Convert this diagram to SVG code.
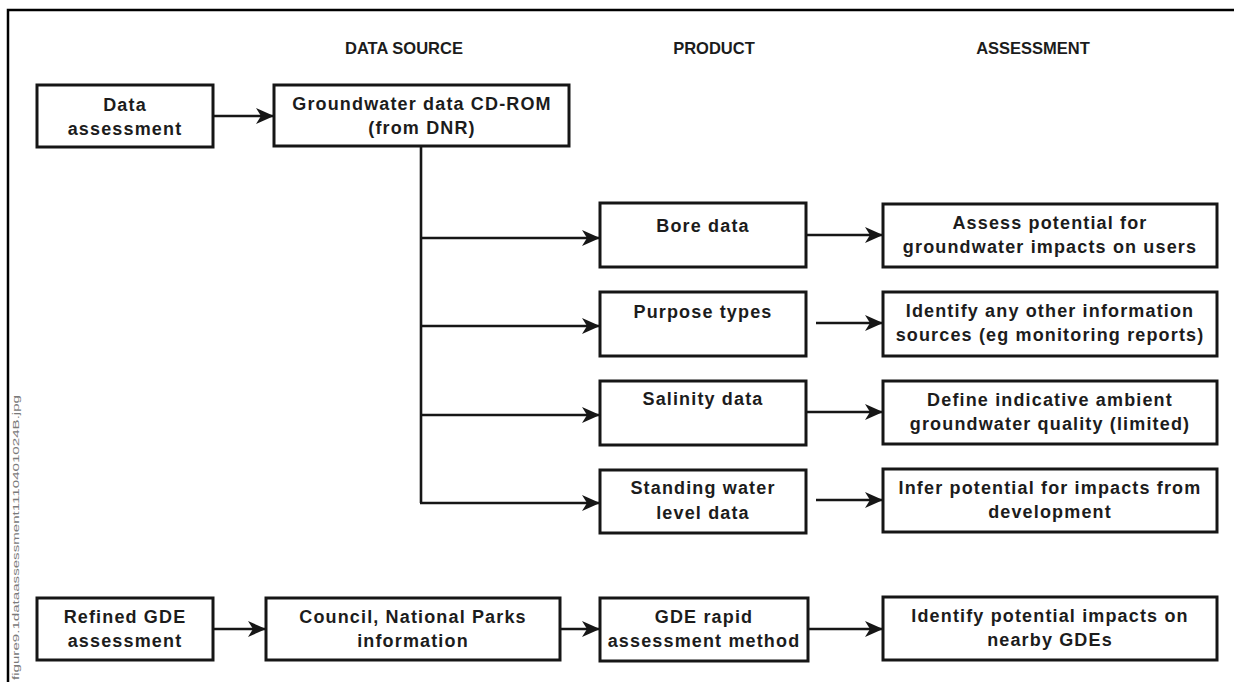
<svg xmlns="http://www.w3.org/2000/svg" width="1234" height="682" viewBox="0 0 1234 682">
  <style>
    .box { fill: #ffffff; stroke: #161616; stroke-width: 3; }
    .lbl { font-family: "Liberation Sans", Arial, sans-serif; font-weight: bold; font-size: 18px; letter-spacing: 1.15px; fill: #1c1c1c; text-anchor: middle; }
    .hdr { font-family: "Liberation Sans", Arial, sans-serif; font-weight: bold; font-size: 16.5px; fill: #1c1c1c; text-anchor: middle; }
    .wire { fill: none; stroke: #161616; stroke-width: 2.6; }
    .arr { marker-end: url(#head); }
    .frame { fill: none; stroke: #000000; stroke-width: 2.5; }
    .file { font-family: "Liberation Sans", Arial, sans-serif; font-size: 9px; fill: #7a7a7a; }
  </style>
  <defs>
    <marker id="head" viewBox="0 0 18 16" refX="17" refY="8" markerWidth="18" markerHeight="16" markerUnits="userSpaceOnUse" orient="auto">
      <path d="M0,0 L18,8 L0,16 L5,8 Z" fill="#161616"/>
    </marker>
  </defs>

  <rect width="1234" height="682" fill="#ffffff"/>

  <!-- page frame -->
  <path class="frame" d="M8,682 V10 H1234"/>

  <!-- file name printed along the left margin -->
  <text class="file" transform="translate(19,680) rotate(-90)" textLength="285" lengthAdjust="spacingAndGlyphs">figure9.1dataassessment1110401024B.jpg</text>

  <!-- column headings -->
  <g id="headings">
    <text class="hdr" x="404" y="54">DATA SOURCE</text>
    <text class="hdr" x="714" y="54">PRODUCT</text>
    <text class="hdr" x="1033" y="54">ASSESSMENT</text>
  </g>

  <!-- connectors -->
  <g id="connectors">
    <line class="wire arr" x1="213" y1="116" x2="273" y2="116"/>
    <path class="wire" d="M421,146 V503"/>
    <line class="wire arr" x1="420" y1="238" x2="599" y2="238"/>
    <line class="wire arr" x1="420" y1="326" x2="599" y2="326"/>
    <line class="wire arr" x1="420" y1="415" x2="599" y2="415"/>
    <line class="wire arr" x1="420" y1="503" x2="599" y2="503"/>
    <line class="wire arr" x1="806" y1="235" x2="882" y2="235"/>
    <line class="wire arr" x1="816" y1="323" x2="882" y2="323"/>
    <line class="wire arr" x1="806" y1="412" x2="882" y2="412"/>
    <line class="wire arr" x1="816" y1="500" x2="882" y2="500"/>
    <line class="wire arr" x1="213" y1="629" x2="265" y2="629"/>
    <line class="wire arr" x1="560" y1="629" x2="599" y2="629"/>
    <line class="wire arr" x1="808" y1="629" x2="882" y2="629"/>
  </g>

  <!-- top row -->
  <g id="data-assessment">
    <rect class="box" x="37" y="85" width="176" height="62"/>
    <text class="lbl" x="125" y="111">Data</text>
    <text class="lbl" x="125" y="135">assessment</text>
  </g>
  <g id="groundwater-cdrom">
    <rect class="box" x="274" y="85" width="295" height="61"/>
    <text class="lbl" x="422" y="110">Groundwater data CD-ROM</text>
    <text class="lbl" x="422" y="134">(from DNR)</text>
  </g>

  <!-- products -->
  <g id="bore-data">
    <rect class="box" x="600" y="203" width="206" height="64"/>
    <text class="lbl" x="703" y="232">Bore data</text>
  </g>
  <g id="purpose-types">
    <rect class="box" x="600" y="292" width="206" height="64"/>
    <text class="lbl" x="703" y="318">Purpose types</text>
  </g>
  <g id="salinity-data">
    <rect class="box" x="600" y="381" width="206" height="64"/>
    <text class="lbl" x="703" y="405">Salinity data</text>
  </g>
  <g id="standing-water">
    <rect class="box" x="600" y="470" width="206" height="63"/>
    <text class="lbl" x="703" y="494">Standing water</text>
    <text class="lbl" x="703" y="519">level data</text>
  </g>

  <!-- assessments -->
  <g id="assess-users">
    <rect class="box" x="883" y="204" width="334" height="63"/>
    <text class="lbl" x="1050" y="229">Assess potential for</text>
    <text class="lbl" x="1050" y="253">groundwater impacts on users</text>
  </g>
  <g id="other-sources">
    <rect class="box" x="883" y="292" width="334" height="64"/>
    <text class="lbl" x="1050" y="317">Identify any other information</text>
    <text class="lbl" x="1050" y="341">sources (eg monitoring reports)</text>
  </g>
  <g id="ambient-quality">
    <rect class="box" x="883" y="381" width="334" height="63"/>
    <text class="lbl" x="1050" y="406">Define indicative ambient</text>
    <text class="lbl" x="1050" y="430">groundwater quality (limited)</text>
  </g>
  <g id="development-impacts">
    <rect class="box" x="883" y="469" width="334" height="63"/>
    <text class="lbl" x="1050" y="494">Infer potential for impacts from</text>
    <text class="lbl" x="1050" y="518">development</text>
  </g>

  <!-- bottom row -->
  <g id="refined-gde">
    <rect class="box" x="37" y="598" width="176" height="62"/>
    <text class="lbl" x="125" y="623">Refined GDE</text>
    <text class="lbl" x="125" y="647">assessment</text>
  </g>
  <g id="council-parks">
    <rect class="box" x="266" y="598" width="294" height="62"/>
    <text class="lbl" x="413" y="623">Council, National Parks</text>
    <text class="lbl" x="413" y="647">information</text>
  </g>
  <g id="gde-rapid">
    <rect class="box" x="600" y="598" width="208" height="63"/>
    <text class="lbl" x="704" y="623">GDE rapid</text>
    <text class="lbl" x="704" y="647">assessment method</text>
  </g>
  <g id="nearby-gdes">
    <rect class="box" x="883" y="597" width="334" height="63"/>
    <text class="lbl" x="1050" y="622">Identify potential impacts on</text>
    <text class="lbl" x="1050" y="646">nearby GDEs</text>
  </g>
</svg>
